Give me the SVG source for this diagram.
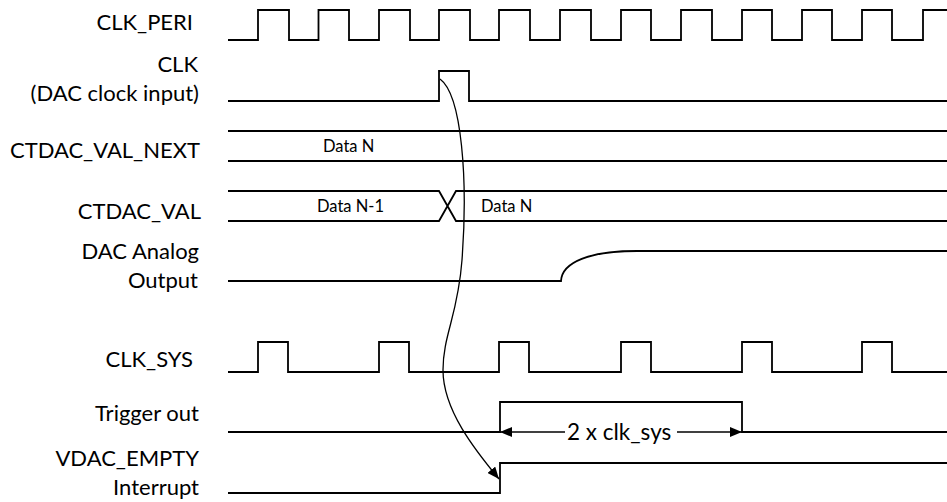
<svg xmlns="http://www.w3.org/2000/svg" width="947" height="502" viewBox="0 0 947 502">
<style>
.bg{fill:#fff}
.sig{fill:none;stroke:#000;stroke-width:1.8;stroke-linejoin:miter}
.lbl{font-family:Lato,"Liberation Sans",sans-serif;font-size:22px;fill:#000;text-anchor:end}
.dat{font-family:Lato,"Liberation Sans",sans-serif;font-size:16.5px;fill:#000}
.dim{font-family:Lato,"Liberation Sans",sans-serif;font-size:22.5px;fill:#000}
.cv{fill:none;stroke:#000;stroke-width:1.3}
.ar{fill:none;stroke:#000;stroke-width:1.4}
</style>
<defs>
<marker id="ah" viewBox="0 0 12 10" refX="12" refY="5" markerWidth="12" markerHeight="10" markerUnits="userSpaceOnUse" orient="auto">
<path d="M0,0 L12,5 L0,10 Z" fill="#000"/>
</marker>
</defs>
<rect class="bg" x="0" y="0" width="947" height="502"/>

<g id="clk_peri">
<text class="lbl" x="193" y="30">CLK_PERI</text>
<path class="sig" d="M228,40 H258 V10 H289 V40 H318.5 V10 H349 V40 H379 V10 H410 V40 H439 V10 H470 V40 H499 V10 H530 V40 H560 V10 H591 V40 H621 V10 H651 V40 H681 V10 H712 V40 H742 V10 H772 V40 H802 V10 H832 V40 H862 V10 H892 V40 H923 V10 H947"/>
</g>

<g id="clk">
<text class="lbl" x="198" y="72">CLK</text>
<text class="lbl" x="199" y="101">(DAC clock input)</text>
<path class="sig" d="M228,101 H439 V71 H469 V101 H947"/>
</g>

<g id="ctdac_val_next">
<text class="lbl" x="200" y="158">CTDAC_VAL_NEXT</text>
<path class="sig" d="M228,131 H947 M228,161 H947"/>
<text class="dat" x="323" y="152">Data N</text>
</g>

<g id="ctdac_val">
<text class="lbl" x="201" y="219">CTDAC_VAL</text>
<path class="sig" d="M228,191 H439 L456,221 H947 M228,221 H439 L456,191 H947"/>
<text class="dat" x="317" y="212">Data N-1</text>
<text class="dat" x="481" y="212">Data N</text>
</g>

<g id="dac_analog">
<text class="lbl" x="199" y="259">DAC Analog</text>
<text class="lbl" x="198" y="288">Output</text>
<path class="sig" d="M228,281 H561 C562,262 590,251 637,251 H947"/>
</g>

<g id="clk_sys">
<text class="lbl" x="193" y="367">CLK_SYS</text>
<path class="sig" d="M228,372 H258 V342 H288 V372 H379 V342 H409 V372 H499 V342 H529 V372 H621 V342 H651 V372 H742 V342 H772 V372 H862 V342 H892 V372 H947"/>
</g>

<g id="trigger_out">
<text class="lbl" x="199" y="421">Trigger out</text>
<path class="sig" d="M228,432 H500 V402 H742 V432 H947"/>
</g>

<g id="vdac_empty">
<text class="lbl" x="199" y="466">VDAC_EMPTY</text>
<text class="lbl" x="199" y="495">Interrupt</text>
<path class="sig" d="M228,493 H500 V463 H947"/>
</g>

<g id="connectors">
<path class="cv" d="M440,79 C462,95 468,180 462,260 C458,315 443,335 443,370 C443,410 475,450 499,479" marker-end="url(#ah)"/>
<path class="ar" d="M565,432 H500" marker-end="url(#ah)"/>
<path class="ar" d="M677,432 H742" marker-end="url(#ah)"/>
<text class="dim" x="567" y="440">2 x clk_sys</text>
</g>
</svg>
